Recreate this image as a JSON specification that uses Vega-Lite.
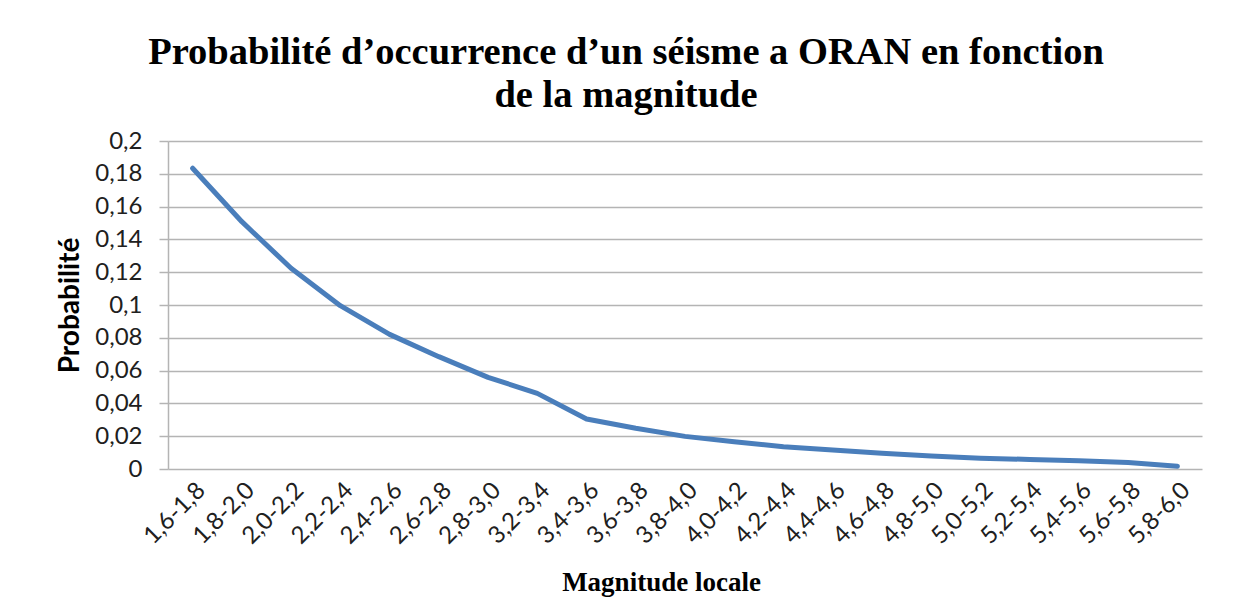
{
  "$schema": "https://vega.github.io/schema/vega-lite/v6.json",
  "width": 1034,
  "height": 328,
  "autosize": {"type": "none"},
  "padding": {"left": 168, "top": 141, "right": 39, "bottom": 140},
  "background": "white",
  "title": {
    "text": ["Probabilité d’occurrence d’un séisme a ORAN en fonction", "de la magnitude"],
    "font": "Liberation Serif",
    "fontSize": 38.5,
    "fontWeight": "bold",
    "color": "black",
    "anchor": "middle",
    "dx": -59,
    "offset": 14,
    "lineHeight": 43
  },
  "data": {
    "values": [
      {"magnitude": "1,6-1,8", "p": 0.1834},
      {"magnitude": "1,8-2,0", "p": 0.1508},
      {"magnitude": "2,0-2,2", "p": 0.1224},
      {"magnitude": "2,2-2,4", "p": 0.0996},
      {"magnitude": "2,4-2,6", "p": 0.0821},
      {"magnitude": "2,6-2,8", "p": 0.0685},
      {"magnitude": "2,8-3,0", "p": 0.0559},
      {"magnitude": "3,2-3,4", "p": 0.0461},
      {"magnitude": "3,4-3,6", "p": 0.0305},
      {"magnitude": "3,6-3,8", "p": 0.0248},
      {"magnitude": "3,8-4,0", "p": 0.0199},
      {"magnitude": "4,0-4,2", "p": 0.0166},
      {"magnitude": "4,2-4,4", "p": 0.0136},
      {"magnitude": "4,4-4,6", "p": 0.0116},
      {"magnitude": "4,6-4,8", "p": 0.0096},
      {"magnitude": "4,8-5,0", "p": 0.0079},
      {"magnitude": "5,0-5,2", "p": 0.0066},
      {"magnitude": "5,2-5,4", "p": 0.0058},
      {"magnitude": "5,4-5,6", "p": 0.0050},
      {"magnitude": "5,6-5,8", "p": 0.0040},
      {"magnitude": "5,8-6,0", "p": 0.0017}
    ]
  },
  "mark": {"type": "line", "color": "#4a7ebb", "strokeWidth": 5, "strokeCap": "round", "strokeJoin": "round"},
  "encoding": {
    "x": {
      "field": "magnitude",
      "type": "ordinal",
      "sort": null,
      "scale": {"type": "point", "padding": 0.5},
      "title": "Magnitude locale",
      "axis": {
        "labelAngle": -45,
        "labelPadding": 9,
        "ticks": false,
        "domain": false,
        "grid": false,
        "titleX": 493,
        "titleY": 121,
        "titleAlign": "center",
        "titleBaseline": "alphabetic"
      }
    },
    "y": {
      "field": "p",
      "type": "quantitative",
      "scale": {"domain": [0, 0.2], "nice": false},
      "title": "Probabilité",
      "axis": {
        "values": [0, 0.02, 0.04, 0.06, 0.08, 0.1, 0.12, 0.14, 0.16, 0.18, 0.2],
        "labelExpr": "replace(format(datum.value, '.2~f'), '.', ',')",
        "labelPadding": 17,
        "tickSize": 9,
        "tickColor": "#b4b4b4",
        "tickWidth": 1.5,
        "domainColor": "#b4b4b4",
        "domainWidth": 1.5,
        "grid": true,
        "gridColor": "#b4b4b4",
        "gridWidth": 1.5,
        "titleX": -90,
        "titleY": 164,
        "titleAngle": -90,
        "titleAlign": "center",
        "titleBaseline": "alphabetic"
      }
    }
  },
  "config": {
    "view": {"stroke": null},
    "axis": {
      "labelFont": "Lato",
      "labelFontSize": 24,
      "labelColor": "#202020"
    },
    "axisX": {
      "titleFont": "serif",
      "titleFontSize": 27,
      "titleFontWeight": "bold",
      "titleColor": "black"
    },
    "axisY": {
      "titleFont": "Lato",
      "titleFontSize": 28,
      "titleFontWeight": "bold",
      "titleColor": "black"
    }
  }
}
